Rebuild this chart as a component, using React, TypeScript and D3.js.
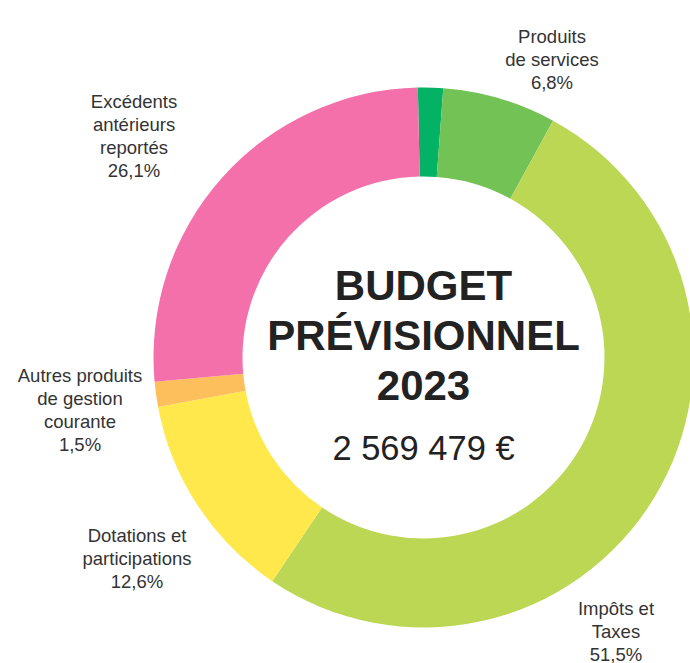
import React from 'react';
import * as d3 from 'd3';

const categories = [
  'Autre',
  'Produits de services',
  'Impôts et Taxes',
  'Dotations et participations',
  'Autres produits de gestion courante',
  'Excédents antérieurs reportés',
];
const shares = [1.5, 6.8, 51.5, 12.6, 1.5, 26.1];
const sliceColors = ['#03b264', '#73c255', '#bcd754', '#ffe84b', '#fdbf5c', '#f470aa'];

// label lines (empty = unlabeled slice)
const labelLines: string[][] = [
  [],
  ['Produits', 'de services', '6,8%'],
  ['Impôts et', 'Taxes', '51,5%'],
  ['Dotations et', 'participations', '12,6%'],
  ['Autres produits', 'de gestion', 'courante', '1,5%'],
  ['Excédents', 'antérieurs', 'reportés', '26,1%'],
];

const titleLines = ['BUDGET', 'PRÉVISIONNEL', '2023'];
const totalLabel = '2 569 479 €';

export default function App() {
  const width = 690;
  const height = 663;
  const cx = 423.5;
  const cy = 357.5;
  const outerR = 270;
  const innerR = 181;

  const data = categories.map((c, i) => ({ name: c, value: shares[i], color: sliceColors[i], lines: labelLines[i] }));

  const offset = (-1.2 * Math.PI) / 180;
  const pie = d3.pie<any>()
    .value(d => d.value)
    .sort(null)
    .startAngle(offset)
    .endAngle(offset + 2 * Math.PI);
  const arcs = pie(data);
  const arc = d3.arc<any>().innerRadius(innerR).outerRadius(outerR);

  // label anchors (centre x, first baseline) relative to the chart centre
  const labelAnchors: [number, number][] = [
    [0, 0],
    [128.5, -314.5],
    [192.5, 257.5],
    [-286.5, 184.5],
    [-343.5, 24],
    [-289.5, -249.5],
  ];

  const lineH = 23;
  const font = '"Liberation Sans", Arial, Helvetica, sans-serif';

  return (
    <svg width={width} height={height} style={{ position: 'absolute', left: 0, top: 0, background: '#fff' }}>
      <g transform={`translate(${cx},${cy})`}>
        {arcs.map((a, i) => (
          <path key={i} d={arc(a) || ''} fill={a.data.color} />
        ))}

        {arcs.map((a, i) =>
          a.data.lines.length ? (
            <text
              key={`l-${i}`}
              x={labelAnchors[i][0]}
              y={labelAnchors[i][1]}
              textAnchor="middle"
              fontFamily={font}
              fontSize={18.5}
              fill="#333"
            >
              {a.data.lines.map((t: string, j: number) => (
                <tspan key={j} x={labelAnchors[i][0]} dy={j === 0 ? 0 : lineH}>{t}</tspan>
              ))}
            </text>
          ) : null
        )}

        {titleLines.map((t, i) => (
          <text
            key={`t-${i}`}
            x={0}
            y={-57.5 + i * 50}
            textAnchor="middle"
            fontFamily={font}
            fontWeight="bold"
            fontSize={42}
            fill="#222"
          >
            {t}
          </text>
        ))}
        <text x={0} y={102.5} textAnchor="middle" fontFamily={font} fontSize={34.5} fill="#222">
          {totalLabel}
        </text>
      </g>
    </svg>
  );
}
